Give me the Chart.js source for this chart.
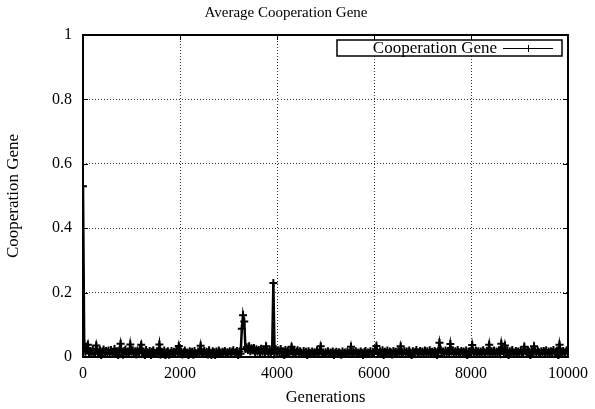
<!DOCTYPE html>
<html>
<head>
<meta charset="utf-8">
<script src="https://cdn.jsdelivr.net/npm/chart.js@4/dist/chart.umd.min.js"></script>
<style>
  html, body { margin: 0; padding: 0; background: #fff; }
  #wrap { width: 595px; height: 409px; position: relative; }
</style>
</head>
<body>
<div id="wrap"><canvas id="c" width="595" height="409"></canvas></div>
<script>
// ---- data ----
const chartTitle = 'Average Cooperation Gene';
const xAxisTitle = 'Generations';
const yAxisTitle = 'Cooperation Gene';
const seriesLabel = 'Cooperation Gene';
const GEN_STEP = 25;               // sampling interval of generations
const xTicks = [0, 2000, 4000, 6000, 8000, 10000];
const yTicks = [0, 0.2, 0.4, 0.6, 0.8, 1];

// average cooperation gene, one value per GEN_STEP generations (0 .. 10000)
const cooperation = [
  .53, .041, .016, .022, .038, .012, .019, .009, .024, .016, .011, .036, .018, .013, .021, .004, .017, .023, .012, .019,
  .014, .020, .010, .022, .016, .009, .025, .013, .018, .003, .021, .041, .015, .007, .019, .023, .012, .017, .010, .039,
  .016, .021, .011, .018, .008, .020, .014, .024, .038, .012, .017, .003, .022, .015, .011, .019, .006, .016, .021, .013,
  .010, .018, .014, .039, .008, .016, .012, .020, .002, .015, .018, .007, .013, .019, .011, .016, .010, .021, .014, .034,
  .012, .017, .008, .015, .020, .011, .014, .003, .018, .013, .016, .007, .019, .012, .010, .017, .014, .035, .009, .015,
  .019, .011, .016, .008, .021, .013, .004, .018, .015, .006, .017, .012, .020, .014, .009, .016, .013, .019, .010, .015,
  .012, .018, .009, .016, .021, .011, .015, .019, .003, .017, .010, .088, .130, .110, .025, .030, .022, .033, .018, .027,
  .020, .028, .014, .024, .017, .022, .012, .026, .016, .021, .013, .033, .018, .011, .023, .015, .019, .230, .012, .024,
  .016, .021, .012, .025, .014, .018, .004, .022, .015, .019, .011, .017, .032, .013, .020, .009, .016, .021, .012, .018,
  .014, .010, .019, .012, .016, .003, .018, .013, .011, .017, .009, .015, .012, .020, .010, .016, .033, .011, .014, .009,
  .015, .011, .018, .009, .014, .012, .017, .002, .013, .016, .010, .015, .012, .007, .017, .011, .014, .009, .016, .012,
  .013, .032, .010, .016, .012, .018, .009, .014, .011, .017, .013, .003, .015, .019, .010, .014, .012, .018, .009, .016,
  .012, .019, .034, .014, .010, .018, .013, .021, .004, .016, .012, .020, .011, .017, .014, .008, .019, .013, .016, .011,
  .018, .012, .033, .015, .010, .019, .013, .017, .009, .020, .014, .003, .018, .012, .016, .022, .010, .015, .019, .013,
  .017, .011, .020, .014, .018, .009, .021, .013, .016, .012, .019, .015, .004, .018, .044, .022, .013, .017, .011, .020,
  .014, .019, .012, .040, .016, .021, .010, .018, .013, .022, .015, .011, .019, .014, .017, .012, .020, .003, .016, .018,
  .013, .037, .016, .011, .020, .014, .018, .010, .017, .013, .021, .015, .012, .019, .016, .038, .011, .018, .014, .020,
  .012, .017, .015, .021, .010, .041, .019, .014, .036, .016, .020, .004, .018, .013, .022, .015, .010, .019, .014, .017,
  .012, .020, .015, .011, .032, .018, .013, .021, .016, .003, .019, .014, .033, .017, .012, .020, .015, .011, .018, .013,
  .019, .014, .021, .012, .017, .010, .018, .015, .022, .013, .016, .020, .004, .038, .017, .014, .019, .012, .016, .021,
  .015
];
const generations = cooperation.map((_, i) => i * GEN_STEP);

// ---- layout constants ----
const AREA = { left: 83, right: 572, top: 35, bottom: 357 };
const W = 595, H = 409;
const SERIF = "'Liberation Serif', 'DejaVu Serif', serif";

const framePlugin = {
  id: 'gnuplotFrame',
  afterDatasetsDraw(chart) {
    const { ctx, chartArea: a, scales } = chart;
    ctx.save();
    ctx.strokeStyle = '#000';
    // tick marks on all four sides
    ctx.lineWidth = 1;
    const tl = 5;
    ctx.beginPath();
    xTicks.forEach(v => {
      const x = Math.round(scales.x.getPixelForValue(v)) + 0.5;
      ctx.moveTo(x, a.bottom); ctx.lineTo(x, a.bottom - tl);
      ctx.moveTo(x, a.top); ctx.lineTo(x, a.top + tl);
    });
    yTicks.forEach(v => {
      const y = Math.round(scales.y.getPixelForValue(v)) + 0.5;
      ctx.moveTo(a.left, y); ctx.lineTo(a.left + tl, y);
      ctx.moveTo(a.right, y); ctx.lineTo(a.right - tl, y);
    });
    ctx.stroke();
    // frame
    ctx.lineWidth = 2;
    ctx.strokeRect(a.left, a.top, a.right - a.left, a.bottom - a.top);

    // legend (gnuplot style: text then sample, boxed)
    const ds = chart.data.datasets[0];
    const bx = 337, by = 40, bw = 225, bh = 16;
    ctx.fillStyle = '#fff';
    ctx.fillRect(bx, by, bw, bh);
    ctx.lineWidth = 1.5;
    ctx.strokeRect(bx, by, bw, bh);
    ctx.fillStyle = '#000';
    ctx.font = '17px ' + SERIF;
    ctx.textAlign = 'right';
    ctx.textBaseline = 'middle';
    ctx.fillText(ds.label, 497, by + bh / 2 + 1);
    const ly = Math.round(by + bh / 2) + 0.5;
    ctx.lineWidth = 1;
    ctx.beginPath();
    ctx.moveTo(503, ly); ctx.lineTo(553, ly);
    ctx.moveTo(528.5, ly - 3.5); ctx.lineTo(528.5, ly + 3.5);
    ctx.moveTo(525, ly); ctx.lineTo(532, ly);
    ctx.stroke();
    ctx.restore();
  }
};

new Chart(document.getElementById('c'), {
  type: 'line',
  data: {
    datasets: [{
      label: seriesLabel,
      data: generations.map((g, i) => ({ x: g, y: cooperation[i] })),
      borderColor: '#000',
      backgroundColor: '#000',
      borderWidth: 2.5,
      pointStyle: 'cross',
      pointRadius: 4,
      pointBorderWidth: 2,
      pointBorderColor: '#000',
      tension: 0,
      fill: false,
      clip: { left: 1, right: 1, top: 0, bottom: 2 }
    }]
  },
  options: {
    responsive: false,
    animation: false,
    devicePixelRatio: 1,
    layout: { padding: { left: 0, right: W - AREA.right, top: 0, bottom: 0 } },
    plugins: {
      legend: { display: false },
      tooltip: { enabled: false },
      title: {
        display: true,
        text: chartTitle,
        color: '#000',
        font: { family: SERIF, size: 15, weight: 'normal', lineHeight: 1.2 },
        padding: { top: 4, bottom: AREA.top - 4 - 15 * 1.2 }
      }
    },
    scales: {
      x: {
        type: 'linear',
        min: 0, max: 10000,
        afterFit(s) { s.height = H - AREA.bottom; },
        afterBuildTicks(s) { s.ticks = xTicks.map(v => ({ value: v })); },
        ticks: {
          color: '#000', padding: 7, maxRotation: 0, autoSkip: false,
          font: { family: SERIF, size: 16 },
          callback: v => String(v)
        },
        grid: { color: '#333', lineWidth: 1, drawTicks: false },
        border: { display: false, dash: [1, 2] },
        title: {
          display: true, text: xAxisTitle, color: '#000',
          font: { family: SERIF, size: 16.5, lineHeight: 1.2 },
          padding: { top: 0, bottom: 1.2 }
        }
      },
      y: {
        type: 'linear',
        min: 0, max: 1,
        afterFit(s) { s.width = AREA.left; },
        afterBuildTicks(s) { s.ticks = yTicks.map(v => ({ value: v })); },
        ticks: {
          color: '#000', padding: 11, autoSkip: false,
          font: { family: SERIF, size: 16 },
          callback: v => String(v)
        },
        grid: { color: '#333', lineWidth: 1, drawTicks: false },
        border: { display: false, dash: [1, 2] },
        title: {
          display: true, text: yAxisTitle, color: '#000',
          font: { family: SERIF, size: 17, lineHeight: 1.2 },
          padding: { top: 3.8, bottom: 0 }
        }
      }
    }
  },
  plugins: [framePlugin]
});
</script>
</body>
</html>
